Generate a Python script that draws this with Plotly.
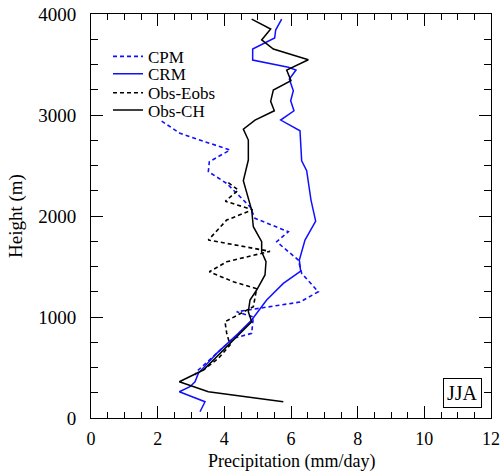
import plotly.graph_objects as go

# CPM (blue dashed)
cpm_height = [2940, 2818, 2653, 2538, 2439, 2323, 2257, 2092, 1977, 1844, 1745, 1564, 1432, 1250, 1148, 1052, 1000, 838, 789, 624, 475, 426]
cpm_precip = [2.12, 2.67, 4.17, 3.55, 3.52, 4.07, 4.27, 4.77, 4.92, 5.92, 5.57, 6.22, 6.32, 6.82, 6.27, 4.37, 4.87, 4.82, 4.27, 3.72, 3.22, 3.12]

# CRM (blue solid)
crm_height = [3950, 3841, 3762, 3653, 3544, 3472, 3445, 3356, 3240, 3141, 3042, 2950, 2844, 2547, 2448, 2158, 1950, 1762, 1564, 1455, 1333, 1168, 970, 838, 640, 442, 359, 310, 260, 161, 62]
crm_precip = [5.72, 5.54, 5.51, 4.85, 4.85, 5.92, 6.15, 5.95, 6.07, 5.99, 6.09, 5.69, 6.27, 6.32, 6.47, 6.60, 6.74, 6.42, 6.25, 6.29, 5.77, 5.27, 4.82, 4.42, 3.77, 3.22, 3.12, 2.97, 2.65, 3.42, 3.27]

# Obs-Eobs (black dashed)
eobs_height = [2330, 2257, 2146, 2062, 1960, 1762, 1650, 1547, 1448, 1349, 1280, 1102, 953, 842, 723, 590, 475]
eobs_precip = [4.12, 4.42, 4.03, 4.85, 4.07, 3.52, 5.37, 4.07, 3.55, 4.27, 4.97, 4.87, 4.02, 4.07, 4.17, 3.82, 3.37]

# Obs-CH (black solid)
ch_height = [3950, 3851, 3743, 3653, 3547, 3445, 3340, 3247, 3135, 3042, 2950, 2860, 2752, 2554, 2349, 2059, 1894, 1745, 1646, 1547, 1416, 1267, 1168, 1052, 953, 739, 475, 359, 317, 260, 161]
ch_precip = [4.82, 5.39, 5.12, 5.47, 6.52, 5.87, 6.00, 5.47, 5.39, 5.50, 4.92, 4.57, 4.72, 4.72, 4.57, 4.82, 4.87, 5.12, 5.12, 5.25, 5.22, 4.97, 4.77, 4.72, 4.82, 4.17, 3.37, 2.65, 3.02, 3.52, 5.77]

BLUE = "#1010ff"
FONT = "Liberation Serif, Times New Roman, serif"

fig = go.Figure()
fig.add_trace(go.Scatter(x=cpm_precip, y=cpm_height, mode="lines", name="CPM", legend="legend",
                         line=dict(color=BLUE, width=1.6, dash="4px,3px")))
fig.add_trace(go.Scatter(x=crm_precip, y=crm_height, mode="lines", name="CRM", legend="legend2",
                         line=dict(color=BLUE, width=1.5)))
fig.add_trace(go.Scatter(x=eobs_precip, y=eobs_height, mode="lines", name="Obs-Eobs", legend="legend3",
                         line=dict(color="black", width=1.6, dash="4px,3px")))
fig.add_trace(go.Scatter(x=ch_precip, y=ch_height, mode="lines", name="Obs-CH", legend="legend4",
                         line=dict(color="black", width=1.5)))

axis_common = dict(
    showgrid=False, zeroline=False, showline=True, linecolor="black", linewidth=1,
    mirror="ticks", ticks="inside", tickcolor="black", tickwidth=1, ticklen=12,
    automargin=False,
)

fig.update_xaxes(range=[0, 12], dtick=2, tick0=0, ticklabelstandoff=4,
                 tickfont=dict(family=FONT, size=18, color="black"),
                 minor=dict(ticks="inside", dtick=0.5, ticklen=6, tickcolor="black", tickwidth=1),
                 **axis_common)
fig.update_yaxes(range=[0, 4000], dtick=1000, tick0=0, ticklabelstandoff=10,
                 tickfont=dict(family=FONT, size=19, color="black"),
                 minor=dict(ticks="inside", dtick=250, ticklen=7, tickcolor="black", tickwidth=1),
                 **axis_common)

# axis titles
fig.add_annotation(x=0.5, y=0, xref="paper", yref="paper", yshift=-55, xanchor="center", yanchor="bottom",
                   text="Precipitation (mm/day)", showarrow=False, borderpad=0,
                   font=dict(family=FONT, size=18, color="black"))
fig.add_annotation(x=0, y=0.5, xref="paper", yref="paper", xshift=-75, xanchor="center", yanchor="middle",
                   text="Height (m)", textangle=-90, showarrow=False,
                   font=dict(family=FONT, size=19, color="black"))

fig.add_annotation(x=11.15, y=245, xref="x", yref="y", text="JJA", showarrow=False,
                   font=dict(family=FONT, size=20, color="black"),
                   bordercolor="black", borderwidth=1, borderpad=3, bgcolor="white")

leg_common = dict(x=0.0425, xanchor="left", yanchor="middle", bgcolor="rgba(0,0,0,0)",
                  font=dict(family=FONT, size=17, color="black"), itemwidth=30)

fig.update_layout(
    width=504, height=474,
    margin=dict(l=91, r=13, t=14, b=56),
    paper_bgcolor="white", plot_bgcolor="white",
    showlegend=True,
    legend=dict(y=0.894, **leg_common),
    legend2=dict(y=0.851, **leg_common),
    legend3=dict(y=0.804, **leg_common),
    legend4=dict(y=0.761, **leg_common),
)

fig.write_html("out.html", config={"displayModeBar": False},
               post_script="document.body.style.margin='0';document.body.style.overflow='hidden';")
